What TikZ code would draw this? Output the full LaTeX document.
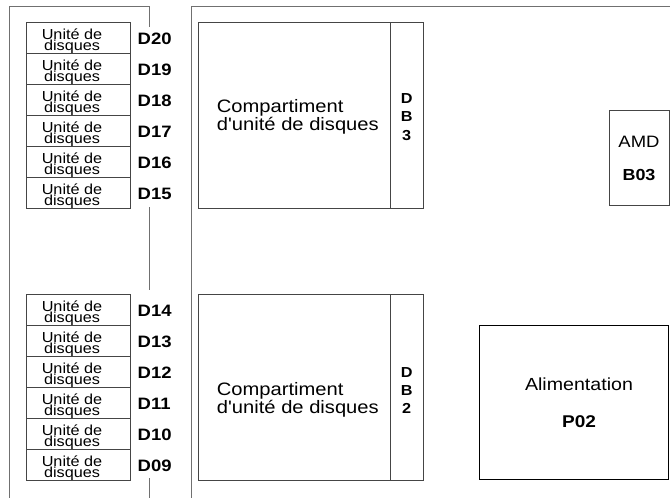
\documentclass[tikz,border=0pt]{standalone}
\usepackage{fontspec}
\setmainfont[FakeStretch=1.12, Ligatures=TeXOff]{Liberation Sans}
\usetikzlibrary{calc}
\definecolor{framegray}{HTML}{707070}
\definecolor{boxgray}{HTML}{454545}
\begin{document}
\begin{tikzpicture}[x=1pt, y=-1pt,
  frame/.style={draw=framegray, line width=1pt},
  box/.style={draw=boxgray, line width=1pt, inner sep=0pt, outer sep=0pt, anchor=north west},
  drivebox/.style={draw=boxgray, line width=0.9pt, minimum width=104pt, minimum height=31pt, inner sep=0pt, outer sep=0pt},
  dtext/.style={font=\fontsize{14.5}{10.8}\selectfont, align=center, inner sep=0pt, anchor=base},
  dlabel/.style={font=\bfseries\fontsize{16.5}{16.5}\selectfont, inner sep=0pt, anchor=base west},
  ctext/.style={font=\fontsize{18}{18}\selectfont, inner sep=0pt, anchor=base west},
  dbtext/.style={font=\bfseries\fontsize{14.5}{14.5}\selectfont, inner sep=0pt, anchor=base},
  rtext/.style={font=\fontsize{16.5}{16.5}\selectfont, inner sep=0pt, anchor=base},
  btext/.style={font=\bfseries\fontsize{16}{16}\selectfont, inner sep=0pt, anchor=base},
  ptext/.style={font=\bfseries\fontsize{17}{17}\selectfont, inner sep=0pt, anchor=base}]
\useasboundingbox (0,0) rectangle (670,498);

% outer frames
\coordinate (lbot) at (9,498);
\coordinate (ltopl) at (9,6);
\coordinate (ltopr) at (149,6);
\coordinate (gap1a) at (149,27);
\coordinate (gap1b) at (149,207);
\coordinate (gap2a) at (149,290);
\coordinate (gap2b) at (149,478);
\coordinate (rbotl) at (149,498);
\draw[frame] (lbot) -- (ltopl) -- (ltopr) -- (gap1a);
\draw[frame] (gap1b) -- (gap2a);
\draw[frame] (gap2b) -- (rbotl);
\coordinate (mbot) at (191,498);
\coordinate (mtop) at (191,6);
\coordinate (rtop) at (670,6);
\draw[frame] (mbot) -- (mtop) -- (rtop);

% upper stack of disk units (the text node's base is its last line)
\foreach \n/\k in {20/0,19/1,18/2,17/3,16/4,15/5} {
  \node[drivebox] (b\n) at (78, 37.8+31*\k) {};
  \node[dtext] at ($(b\n.north)+(-6,27.8)$) {Unité de\\disques};
  \node[dlabel] (d\n) at (137.5, 44.8+31*\k) {D\n};
}
% lower stack of disk units
\foreach \n/\k in {14/0,13/1,12/2,11/3,10/4,09/5} {
  \node[drivebox] (b\n) at (78, 309.8+31*\k) {};
  \node[dtext] at ($(b\n.north)+(-6,27.8)$) {Unité de\\disques};
  \node[dlabel] (d\n) at (137.5, 316.8+31*\k) {D\n};
}

% upper disk compartment DB3
\node[box, minimum width=192pt, minimum height=185.8pt] (cmp3) at (198.3,22.5) {};
\node[box, minimum width=33.3pt, minimum height=185.8pt] (db3) at (cmp3.north east) {};
\node[ctext] at (216.7,112.7) {Compartiment};
\node[ctext] at (216.7,130.7) {d'unité de disques};
\node[dbtext] at (406.7,103) {D};
\node[dbtext] at (406.7,121.5) {B};
\node[dbtext] at (406.7,140) {3};

% lower disk compartment DB2
\node[box, minimum width=192pt, minimum height=185.7pt] (cmp2) at (198.3,294.3) {};
\node[box, minimum width=33.3pt, minimum height=185.7pt] (db2) at (cmp2.north east) {};
\node[ctext] at (216.7,395) {Compartiment};
\node[ctext] at (216.7,413) {d'unité de disques};
\node[dbtext] at (406.7,377) {D};
\node[dbtext] at (406.7,395) {B};
\node[dbtext] at (406.7,413) {2};

% AMD
\node[box, minimum width=60pt, minimum height=95pt] (amd) at (609.3,110) {};
\node[rtext] at (639,147) {AMD};
\node[btext] at (639,180) {B03};

% power supply
\node[box, draw=black, minimum width=189.2pt, minimum height=153.8pt] (psu) at (479.3,325.7) {};
\node[rtext, font=\fontsize{17.5}{17.5}\selectfont] at (579,390) {Alimentation};
\node[ptext] at (579,427) {P02};
\end{tikzpicture}
\end{document}
